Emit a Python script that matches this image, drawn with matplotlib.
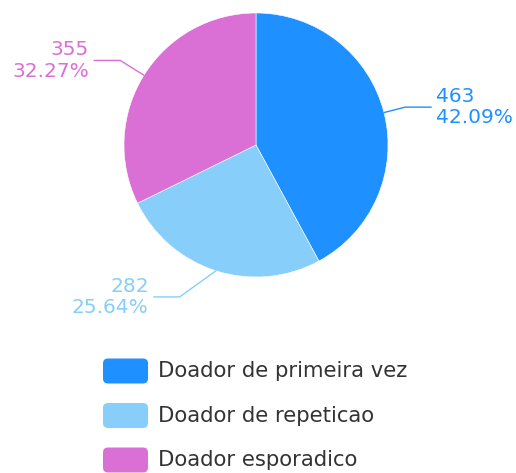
import numpy as np
import matplotlib
matplotlib.use("Agg")
import matplotlib.pyplot as plt
from matplotlib.patches import FancyBboxPatch

categories = ["Doador de primeira vez", "Doador de repeticao", "Doador esporadico"]
values = [463, 282, 355]
colors = ["#1E90FF", "#87CEFA", "#DA70D6"]

# layout (pixel coords, y grows downward)
cx, cy, radius = 256, 145, 132
line_len = [22, 38, 28]
line_turn = [0, -9, 0]  # degrees the elbow is pushed by label layout
horiz = 26

fig = plt.figure(figsize=(5.16, 4.73), dpi=100)
ax = fig.add_axes([0, 0, 1, 1])

# y axis is inverted below, so counterclock in data = clockwise on screen
wedges, _ = ax.pie(values, colors=colors, startangle=-90, counterclock=True,
                   center=(cx, cy), radius=radius, frame=True,
                   wedgeprops=dict(edgecolor="white", linewidth=0.4))
ax.set_xlim(0, 516)
ax.set_ylim(473, 0)
ax.set_aspect("equal")
ax.axis("off")

total = sum(values)
for w, v, col, ln, turn in zip(wedges, values, colors, line_len, line_turn):
    mid = np.deg2rad((w.theta1 + w.theta2) / 2)
    x0 = cx + radius * np.cos(mid)
    y0 = cy + radius * np.sin(mid)
    ang = mid + np.deg2rad(turn) * (-1 if np.cos(mid) < 0 else 1)
    x1 = cx + (radius + ln) * np.cos(ang)
    y1 = cy + (radius + ln) * np.sin(ang)
    side = 1 if np.cos(mid) >= 0 else -1
    x2 = x1 + side * horiz
    ax.plot([x0, x1, x2], [y0, y1, y1], color=col, lw=1.0, solid_capstyle="round")
    ax.text(x2 + side * 5, y1, f"{v}\n{v / total * 100:.2f}%", color=col,
            fontsize=14.5, ha="left" if side > 0 else "right", va="center",
            ma="right" if side < 0 else "left", linespacing=1.15)

# legend
leg_x, leg_y0, leg_dy = 103, 371, 44.5
for i, (cat, col) in enumerate(zip(categories, colors)):
    yc = leg_y0 + i * leg_dy
    ax.add_patch(FancyBboxPatch((leg_x, yc - 12.5), 45, 25,
                                boxstyle="round,pad=0,rounding_size=5",
                                facecolor=col, edgecolor="none"))
    ax.text(leg_x + 55, yc, cat, fontsize=15.2, color="#333333",
            ha="left", va="center")

fig.savefig("out.png", dpi=100)
